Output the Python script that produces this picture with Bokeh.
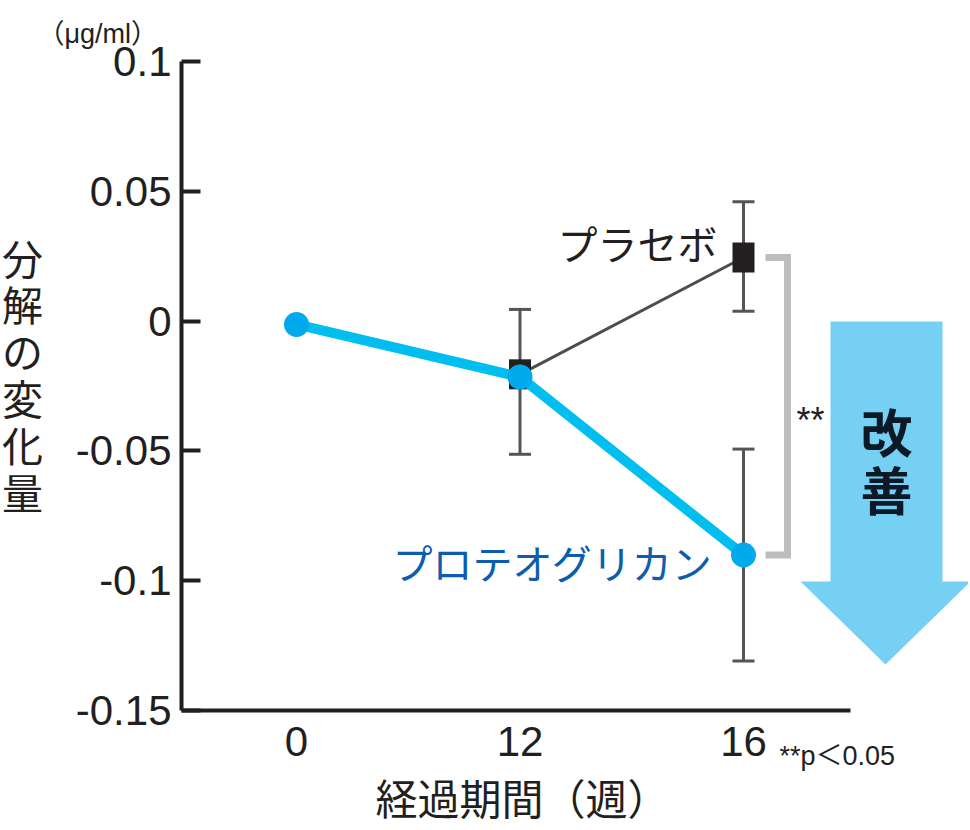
from bokeh.plotting import figure
from bokeh.models import Range1d, FixedTicker, ColumnDataSource, Whisker, TeeHead, Label
from bokeh.embed import file_html
from bokeh.resources import INLINE

# ---------------- data ----------------
weeks = ["0", "12", "16"]
placebo_mean = [0.0, -0.0205, 0.0245]
placebo_upper = [None, 0.0045, 0.0460]
placebo_lower = [None, -0.0513, 0.0038]
proteo_mean = [-0.0013, -0.0215, -0.0901]
proteo_upper = [None, None, -0.0493]
proteo_lower = [None, None, -0.1309]
y_ticks = [0.1, 0.05, 0, -0.05, -0.1, -0.15]
y_tick_labels = ["0.1", "0.05", "0", "-0.05", "-0.1", "-0.15"]
placebo_name = "プラセボ"
proteo_name = "プロテオグリカン"
x_title = "経過期間（週）"
y_title = "分解の変化量"
unit_text = "（μg/ml）"
sig_text = "**"
p_text = "**p＜0.05"
improve_text = "改善"

# ---------------- layout helpers (picture pixels -> data) ----------------
PX0, PXU = 296.0, 223.5          # picture x of first category, px per category
FRAME_L, FRAME_R = 181.0, 968.0
FRAME_T, FRAME_B = 61.0, 710.0   # picture y of 0.1 and -0.15
Y_MAX, Y_MIN = 0.1, -0.15
W, H = 968, 826

def sx(px):
    return (px - PX0) / PXU

def sy(py):
    return Y_MAX - (py - FRAME_T) * (Y_MAX - Y_MIN) / (FRAME_B - FRAME_T)

x = list(range(len(weeks)))
INK = "#231F20"
CJK = "Noto Sans CJK JP"
LAT = "Liberation Sans"
MIX = "Liberation Sans, Noto Sans CJK JP"

p = figure(width=W, height=H, output_backend="svg", toolbar_location=None,
           x_range=Range1d(sx(FRAME_L), sx(FRAME_R)),
           y_range=Range1d(Y_MIN, Y_MAX),
           min_border_left=int(FRAME_L), min_border_right=0,
           min_border_top=int(FRAME_T), min_border_bottom=int(H - FRAME_B))
p.outline_line_color = None
p.xgrid.grid_line_color = None
p.ygrid.grid_line_color = None
p.background_fill_color = "white"
p.border_fill_color = "white"

# y axis
ya = p.yaxis[0]
ya.ticker = FixedTicker(ticks=y_ticks)
ya.major_label_overrides = {t: l for t, l in zip(y_ticks, y_tick_labels)}
ya.major_tick_in = 19
ya.major_tick_out = 0
ya.minor_tick_line_color = None
ya.major_tick_line_width = 4
ya.major_tick_line_color = INK
ya.axis_line_width = 4
ya.axis_line_color = INK
ya.major_label_text_font = LAT
ya.major_label_text_font_size = "42px"
ya.major_label_text_color = INK
ya.major_label_standoff = 10

# x axis
xa = p.xaxis[0]
xa.ticker = FixedTicker(ticks=x)
xa.major_label_overrides = {i: w for i, w in zip(x, weeks)}
xa.major_tick_in = 0
xa.major_tick_out = 0
xa.minor_tick_line_color = None
xa.axis_line_width = 4
xa.axis_line_color = INK
xa.bounds = (sx(FRAME_L), sx(850))
xa.major_label_text_font = LAT
xa.major_label_text_font_size = "42px"
xa.major_label_text_color = INK
xa.major_label_standoff = 16

# improvement arrow (decoration)
ax = [830, 942, 942, 970, 885, 800, 830]
ay = [321, 321, 581, 581, 664, 581, 581]
p.patch([sx(v) for v in ax], [sy(v) for v in ay], fill_color="#75D0F4", line_color=None)

# significance bracket
p.line([sx(765), sx(787), sx(787), sx(765)],
       [placebo_mean[2], placebo_mean[2], proteo_mean[2], proteo_mean[2]],
       line_color="#BDBDBD", line_width=7, line_join="miter")

# error bars
def whisker(upper, lower):
    idx = [i for i in range(len(x)) if upper[i] is not None]
    src = ColumnDataSource(dict(x=[x[i] for i in idx],
                                upper=[upper[i] for i in idx],
                                lower=[lower[i] for i in idx]))
    w = Whisker(base="x", upper="upper", lower="lower", source=src,
                line_color="#555555", line_width=3, level="underlay",
                upper_head=TeeHead(size=22, line_color="#555555", line_width=3),
                lower_head=TeeHead(size=22, line_color="#555555", line_width=3))
    p.add_layout(w)

whisker(placebo_upper, placebo_lower)
whisker(proteo_upper, proteo_lower)

# placebo series
p.line(x, placebo_mean, line_color="#4D4D4D", line_width=3)
p.rect(x[1:], placebo_mean[1:], width=22, height=30, width_units="screen",
       height_units="screen", fill_color=INK, line_color=None)

# proteoglycan series
p.line(x, proteo_mean, line_color="#00BEEF", line_width=10)
p.scatter(x, proteo_mean, size=25, fill_color="#00AAEC", line_color=None)

# ---------------- text annotations ----------------
def label(px, py, text, size, font=CJK, color=INK, align="center", baseline="middle",
          style="normal", place="center", line_height=1.2):
    lab = Label(x=sx(px), y=sy(py), text=text, text_font=font,
                text_font_size=f"{size}px", text_color=color,
                text_align=align, text_baseline=baseline, text_font_style=style,
                text_line_height=line_height)
    if place == "center":
        p.add_layout(lab)
    else:
        p.add_layout(lab, place)

label(717, 242, placebo_name, 40, align="right")
label(712, 561, proteo_name, 40, color="#0B5DAF", align="right")
label(796, 420, sig_text, 36, font=LAT, align="left", baseline="alphabetic")
label(886, 430, improve_text[0], 52, color="#0B1A26", style="bold")
label(886, 488, improve_text[1], 52, color="#0B1A26", style="bold")

# texts outside the plot frame: placed in side panels so they are not clipped
label(22, 373, "\n".join(y_title), 41, place="left", line_height=0.78)
label(779, 755, p_text, 27, font=MIX, align="left", baseline="alphabetic", place="above")
label(37, 33, unit_text, 27, font=MIX, align="left", baseline="alphabetic", place="above")
label(522, 800, x_title, 42, font=MIX, place="below")

open("out.html", "w").write(file_html(p, INLINE))
